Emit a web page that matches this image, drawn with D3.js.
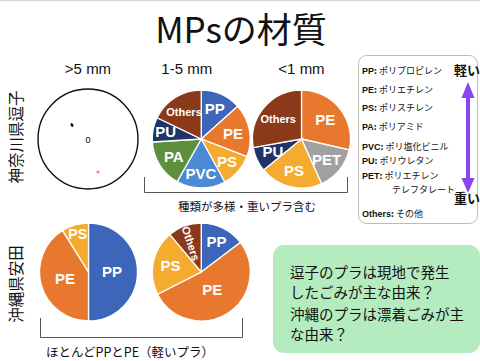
<!DOCTYPE html>
<html><head><meta charset="utf-8">
<script src="https://cdn.jsdelivr.net/npm/d3@7"></script>
<style>
html,body{margin:0;padding:0;background:#fff;}
svg{display:block;font-family:"Noto Sans CJK JP","Noto Sans",sans-serif;}
</style></head>
<body>
<script>
// ---- data ----
const title = "MPsの材質";
const sizeClasses = [">5 mm", "1-5 mm", "<1 mm"];
const sites = ["神奈川県逗子", "沖縄県安田"];

const zushiLargeCount = 0;               // >5 mm at Zushi: none found
const zushiMidTypes  = ["PP", "PE", "PS", "PVC", "PA", "PU", "Others"];
const zushiMidValues = [13.3, 17.5, 11.1, 16.1, 15.8, 8.1, 17.8];
const zushiSmallTypes  = ["PE", "PET", "PS", "PU", "Others"];
const zushiSmallValues = [28.6, 14.7, 20.8, 8.1, 27.8];
const yasudaLargeTypes  = ["PP", "PE", "PS"];
const yasudaLargeValues = [50.0, 41.1, 8.9];
const yasudaMidTypes  = ["PP", "PE", "PS", "Others"];
const yasudaMidValues = [14.7, 52.8, 21.4, 11.1];

const legendCodes = ["PP", "PE", "PS", "PA", "PVC", "PU", "PET", "Others"];
const legendNames = ["ポリプロピレン", "ポリエチレン", "ポリスチレン", "ポリアミド", "ポリ塩化ビニル", "ポリウレタン", "ポリエチレン\nテレフタレート", "その他"];

const bracketTop = "種類が多様・重いプラ含む";
const bracketBottom = "ほとんどPPとPE（軽いプラ）";
const noteLines = ["逗子のプラは現地で発生", "したごみが主な由来？", "沖縄のプラは漂着ごみが主", "な由来？"];

// ---- styles ----
const color = d3.scaleOrdinal()
  .domain(["PP", "PE", "PS", "PA", "PVC", "PU", "PET", "Others"])
  .range(["#3b66b9", "#e9782f", "#f5ab30", "#5d8f3d", "#4b8ad4", "#1f3469", "#a0a0a0", "#8a3a1a"]);

const W = 480, H = 361;
const svg = d3.select("body").append("svg").attr("width", W).attr("height", H);

svg.append("line").attr("x1", 0).attr("x2", W).attr("y1", 0.5).attr("y2", 0.5)
  .attr("stroke", "#d8d8d8").attr("stroke-width", 1.5);

svg.append("text").attr("x", 241).attr("y", 43).attr("text-anchor", "middle")
  .attr("font-size", 35).attr("fill", "#111").text(title);

const colX = d3.scalePoint().domain(sizeClasses).range([88, 301.5]);
const rowY = d3.scalePoint().domain(sites).range([139, 272]);

sizeClasses.forEach((s, i) => {
  svg.append("text").attr("x", colX(s) + [0, -8, 0][i]).attr("y", 74).attr("text-anchor", "middle")
    .attr("font-size", 15).attr("fill", "#111").attr("font-family", "Helvetica, 'Liberation Sans', Arial, sans-serif").text(s);
});

sites.forEach((s, i) => {
  svg.append("text").attr("transform", `translate(22,${[137, 284][i]}) rotate(-90)`)
    .attr("text-anchor", "middle").attr("font-size", 15.5).attr("fill", "#111").text(s);
});

const R = 49;
const arc = d3.arc().innerRadius(0).outerRadius(R);
const pie = d3.pie().sort(null).value(d => d.v);

function drawPie(cx, cy, types, values, labelR, fontSizes, rot) {
  const data = types.map((t, i) => ({ t, v: values[i], i }));
  const g = svg.append("g").attr("transform", `translate(${cx},${cy})`);
  const arcs = pie(data);
  g.selectAll("path").data(arcs).join("path")
    .attr("d", arc).attr("fill", d => color(d.data.t))
    .attr("stroke", "#fff").attr("stroke-width", 1.3);
  g.selectAll("text").data(arcs).join("text")
    .attr("transform", (d, i) => {
      const a = (d.startAngle + d.endAngle) / 2;
      const r = R * labelR[i];
      const x = r * Math.sin(a), y = -r * Math.cos(a);
      return `translate(${x},${y})` + (rot && rot[i] ? ` rotate(${rot[i]})` : "");
    })
    .attr("text-anchor", "middle").attr("dy", "0.36em")
    .attr("font-family", "Helvetica, 'Liberation Sans', Arial, sans-serif")
    .attr("font-weight", "bold").attr("fill", "#fff")
    .attr("font-size", (d, i) => fontSizes[i])
    .text(d => d.data.t);
}

// >5 mm Zushi: empty circle with 0
{
  const cx = colX(sizeClasses[0]), cy = rowY(sites[0]);
  svg.append("circle").attr("cx", cx).attr("cy", cy).attr("r", 50)
    .attr("fill", "#fff").attr("stroke", "#111").attr("stroke-width", 1.4);
  svg.append("text").attr("x", cx).attr("y", cy + 4).attr("text-anchor", "middle")
    .attr("font-size", 9).attr("font-family", "Helvetica, 'Liberation Sans', Arial, sans-serif").text(zushiLargeCount);
  svg.append("ellipse").attr("cx", cx - 16).attr("cy", cy - 14).attr("rx", 1.3).attr("ry", 2)
    .attr("transform", `rotate(-30,${cx - 16},${cy - 14})`).attr("fill", "#111");
  svg.append("circle").attr("cx", cx + 10).attr("cy", cy + 33).attr("r", 1.6).attr("fill", "#f08a8a");
}

drawPie(colX(sizeClasses[1]) + 6.5, rowY(sites[0]), zushiMidTypes, zushiMidValues,
  [0.68, 0.66, 0.7, 0.7, 0.66, 0.74, 0.66], [15, 15, 15, 15, 15, 15, 11]);
drawPie(colX(sizeClasses[2]), rowY(sites[0]), zushiSmallTypes, zushiSmallValues,
  [0.62, 0.66, 0.66, 0.64, 0.62], [15, 15, 15, 15, 11]);
drawPie(colX(sizeClasses[0]) + 0.5, rowY(sites[1]), yasudaLargeTypes, yasudaLargeValues,
  [0.48, 0.5, 0.8], [15, 15, 14]);
drawPie(colX(sizeClasses[1]) + 6.5, rowY(sites[1]), yasudaMidTypes, yasudaMidValues,
  [0.7, 0.42, 0.64, 0.62], [15, 15, 15, 11], [0, 0, 0, 72]);

// brackets
const bracket = (x1, x2, y1, y2) =>
  svg.append("path").attr("d", `M${x1},${y1}V${y2}H${x2}V${y1}`)
    .attr("fill", "none").attr("stroke", "#555").attr("stroke-width", 1);
bracket(144.5, 347.5, 177, 192.5);
svg.append("text").attr("x", 247).attr("y", 211).attr("text-anchor", "middle")
  .attr("font-size", 11.5).attr("fill", "#111").text(bracketTop);
bracket(40.5, 242.5, 318, 337.5);
svg.append("text").attr("x", 130).attr("y", 357).attr("text-anchor", "middle")
  .attr("font-size", 12.5).attr("fill", "#111").text(bracketBottom);

// legend
svg.append("rect").attr("x", 358.5).attr("y", 55.5).attr("width", 119).attr("height", 168)
  .attr("rx", 8).attr("fill", "#fff").attr("stroke", "#bbb").attr("stroke-width", 1);
const legY = [74, 93, 111, 130, 150, 164, 179, 217];
legendCodes.forEach((c, i) => {
  const lines = legendNames[i].split("\n");
  const t = svg.append("text").attr("x", 362).attr("y", legY[i]).attr("font-size", 9).attr("fill", "#111");
  t.append("tspan").attr("font-weight", "bold").attr("font-family", "Helvetica, 'Liberation Sans', Arial, sans-serif").text(c);
  t.append("tspan").attr("font-weight", "bold").text(": ");
  t.append("tspan").text(lines[0]);
  if (lines[1]) {
    svg.append("text").attr("x", 392).attr("y", legY[i] + 14).attr("font-size", 9).attr("fill", "#111").text(lines[1]);
  }
});
svg.append("text").attr("x", 467).attr("y", 75).attr("text-anchor", "middle")
  .attr("font-size", 13).attr("font-weight", "bold").attr("fill", "#111").text("軽い");
svg.append("text").attr("x", 467).attr("y", 203).attr("text-anchor", "middle")
  .attr("font-size", 13).attr("font-weight", "bold").attr("fill", "#111").text("重い");
const ax = 468;
svg.append("path")
  .attr("d", `M${ax},82 L${ax + 6.5},98 L${ax + 2},98 L${ax + 2},178 L${ax + 6.5},178 L${ax},193 L${ax - 6.5},178 L${ax - 2},178 L${ax - 2},98 L${ax - 6.5},98 Z`)
  .attr("fill", "#8a45f0");

// note box
svg.append("rect").attr("x", 273).attr("y", 245).attr("width", 207).attr("height", 108)
  .attr("rx", 11).attr("fill", "#b5ecbf");
const noteY = [278, 298, 320, 340];
noteLines.forEach((l, i) => {
  svg.append("text").attr("x", 290).attr("y", noteY[i]).attr("font-size", 14.5).attr("fill", "#111").text(l);
});
</script>
</body></html>
